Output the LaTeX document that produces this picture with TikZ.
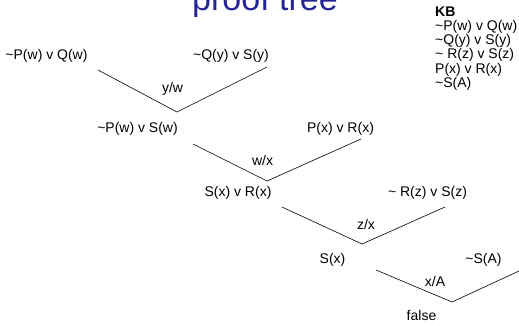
\documentclass[tikz,border=0pt]{standalone}
\usepackage{fontspec}
\setmainfont{Liberation Sans}
\definecolor{titleblue}{RGB}{36,36,150}
\newcommand{\tl}{\textasciitilde}
\begin{document}
\begin{tikzpicture}[x=1pt,y=-1pt,
  lbl/.style={font=\fontsize{14}{14.3}\selectfont, anchor=base, inner sep=0pt},
  kb/.style={lbl, anchor=base west},
  edge/.style={draw=black, line width=0.6pt}]
\useasboundingbox (0,0) rectangle (519,325);
\node[anchor=base, font=\fontsize{34}{40}\selectfont, text=titleblue, inner sep=0pt] (title) at (265,10.5) {proof tree};

% KB
\node[kb, font=\fontsize{14}{14.3}\selectfont\bfseries] (kbh) at (435,16) {KB};
\node[kb] (kb1) at (435,30.3) {\tl P(w) v Q(w)};
\node[kb] (kb2) at (435,44.6) {\tl Q(y) v S(y)};
\node[kb] (kb3) at (435,58.9) {\tl\ R(z) v S(z)};
\node[kb] (kb4) at (435,73.2) {P(x) v R(x)};
\node[kb] (kb5) at (435,87.5) {\tl S(A)};

% tree labels
\node[lbl] (c1) at (46.5,59) {\tl P(w) v Q(w)};
\node[lbl] (c2) at (231,59) {\tl Q(y) v S(y)};
\node[lbl] (s1) at (172.5,92) {y/w};
\node[lbl] (r1) at (137.5,132) {\tl P(w) v S(w)};
\node[lbl] (c3) at (340.5,132) {P(x) v R(x)};
\node[lbl] (s2) at (262.5,165) {w/x};
\node[lbl] (r2) at (238,196) {S(x) v R(x)};
\node[lbl] (c4) at (427.5,196) {\tl\ R(z) v S(z)};
\node[lbl] (s3) at (366,229) {z/x};
\node[lbl] (r3) at (332.5,263) {S(x)};
\node[lbl] (c5) at (483.5,263) {\tl S(A)};
\node[lbl] (s4) at (435,286) {x/A};
\node[lbl] (r4) at (421.5,320) {false};

% line end points
\coordinate (a1) at (98,70);   \coordinate (v1) at (177,112); \coordinate (b1) at (267,67);
\coordinate (a2) at (193,144); \coordinate (v2) at (267,181); \coordinate (b2) at (361,139);
\coordinate (a3) at (282,207); \coordinate (v3) at (362,244); \coordinate (b3) at (445,207);
\coordinate (a4) at (376,270); \coordinate (v4) at (452,302); \coordinate (b4) at (519,271);

\draw[edge] (a1) -- (v1) -- (b1);
\draw[edge] (a2) -- (v2) -- (b2);
\draw[edge] (a3) -- (v3) -- (b3);
\draw[edge] (a4) -- (v4) -- (b4);
\end{tikzpicture}
\end{document}
